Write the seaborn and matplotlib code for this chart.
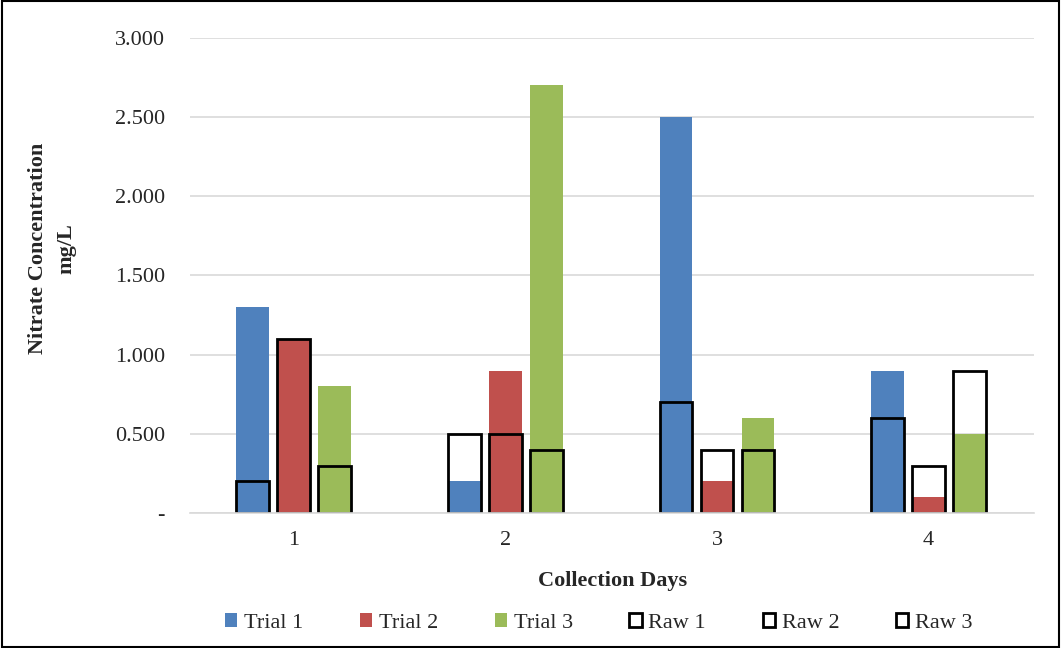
"""Nitrate concentration by collection day: trials vs. raw samples."""
import matplotlib.pyplot as plt
import matplotlib.ticker as mticker
import pandas as pd
import seaborn as sns

days = ["1", "2", "3", "4"]
trial_1 = [1.3, 0.2, 2.5, 0.9]
trial_2 = [1.1, 0.9, 0.2, 0.1]
trial_3 = [0.8, 2.7, 0.6, 0.5]
raw_1 = [0.2, 0.5, 0.7, 0.6]
raw_2 = [1.1, 0.5, 0.4, 0.3]
raw_3 = [0.3, 0.4, 0.4, 0.9]
y_ticks = [0, 0.5, 1.0, 1.5, 2.0, 2.5, 3.0]

trials = pd.DataFrame({
    "day": days * 3,
    "series": ["Trial 1"] * 4 + ["Trial 2"] * 4 + ["Trial 3"] * 4,
    "value": trial_1 + trial_2 + trial_3,
})
raws = pd.DataFrame({
    "day": days * 3,
    "series": ["Raw 1"] * 4 + ["Raw 2"] * 4 + ["Raw 3"] * 4,
    "value": raw_1 + raw_2 + raw_3,
})

sns.set_style("white")
plt.rcParams["font.family"] = ["Liberation Serif", "DejaVu Serif"]

fig = plt.figure(figsize=(10.61, 6.48), dpi=100)
ax = fig.add_axes([0.179, 0.2083, 0.796, 0.7331])

sns.barplot(data=trials, x="day", y="value", hue="series", order=days,
            palette=["#4F81BD", "#C0504D", "#9BBB59"], width=0.58, gap=0.2,
            linewidth=0, saturation=1, errorbar=None, ax=ax)
sns.barplot(data=raws, x="day", y="value", hue="series", order=days,
            palette=["black"] * 3, fill=False, width=0.58, gap=0.2,
            linewidth=2, errorbar=None, ax=ax)

ax.set_ylim(0, 3.0)
ax.set_xlim(-0.49, 3.5)
ax.set_yticks(y_ticks)
ax.yaxis.set_major_formatter(mticker.FuncFormatter(
    lambda v, _: "-" if v == 0 else f"{v:.3f}"))
ax.grid(axis="y", color="#d9d9d9", linewidth=1.2)
ax.set_axisbelow(True)
for side in ("top", "right", "left"):
    ax.spines[side].set_visible(False)
ax.spines["bottom"].set_color("#d9d9d9")
ax.spines["bottom"].set_linewidth(1.2)
ax.tick_params(axis="both", length=0, labelsize=16)
ax.tick_params(axis="x", pad=13)
ax.tick_params(axis="y", pad=18)

ax.set_xlabel("Collection Days", fontsize=16, fontweight="bold", labelpad=15)
ax.set_ylabel("Nitrate Concentration\nmg/L", fontsize=16, fontweight="bold",
              linespacing=1.6)
ax.yaxis.set_label_coords(-0.134, 0.557)

handles, labels = ax.get_legend_handles_labels()
ax.legend(handles, labels, ncol=6, loc="center",
          bbox_to_anchor=(0.484, -0.232), frameon=False, fontsize=16,
          handlelength=0.55, handleheight=0.55, handletextpad=0.3,
          columnspacing=2.55)

fig.patches.append(plt.Rectangle((0.002, 0.002), 0.996, 0.996,
                                 transform=fig.transFigure, fill=False,
                                 edgecolor="black", linewidth=1.5))

fig.savefig("out.png", dpi=100)
plt.close(fig)
